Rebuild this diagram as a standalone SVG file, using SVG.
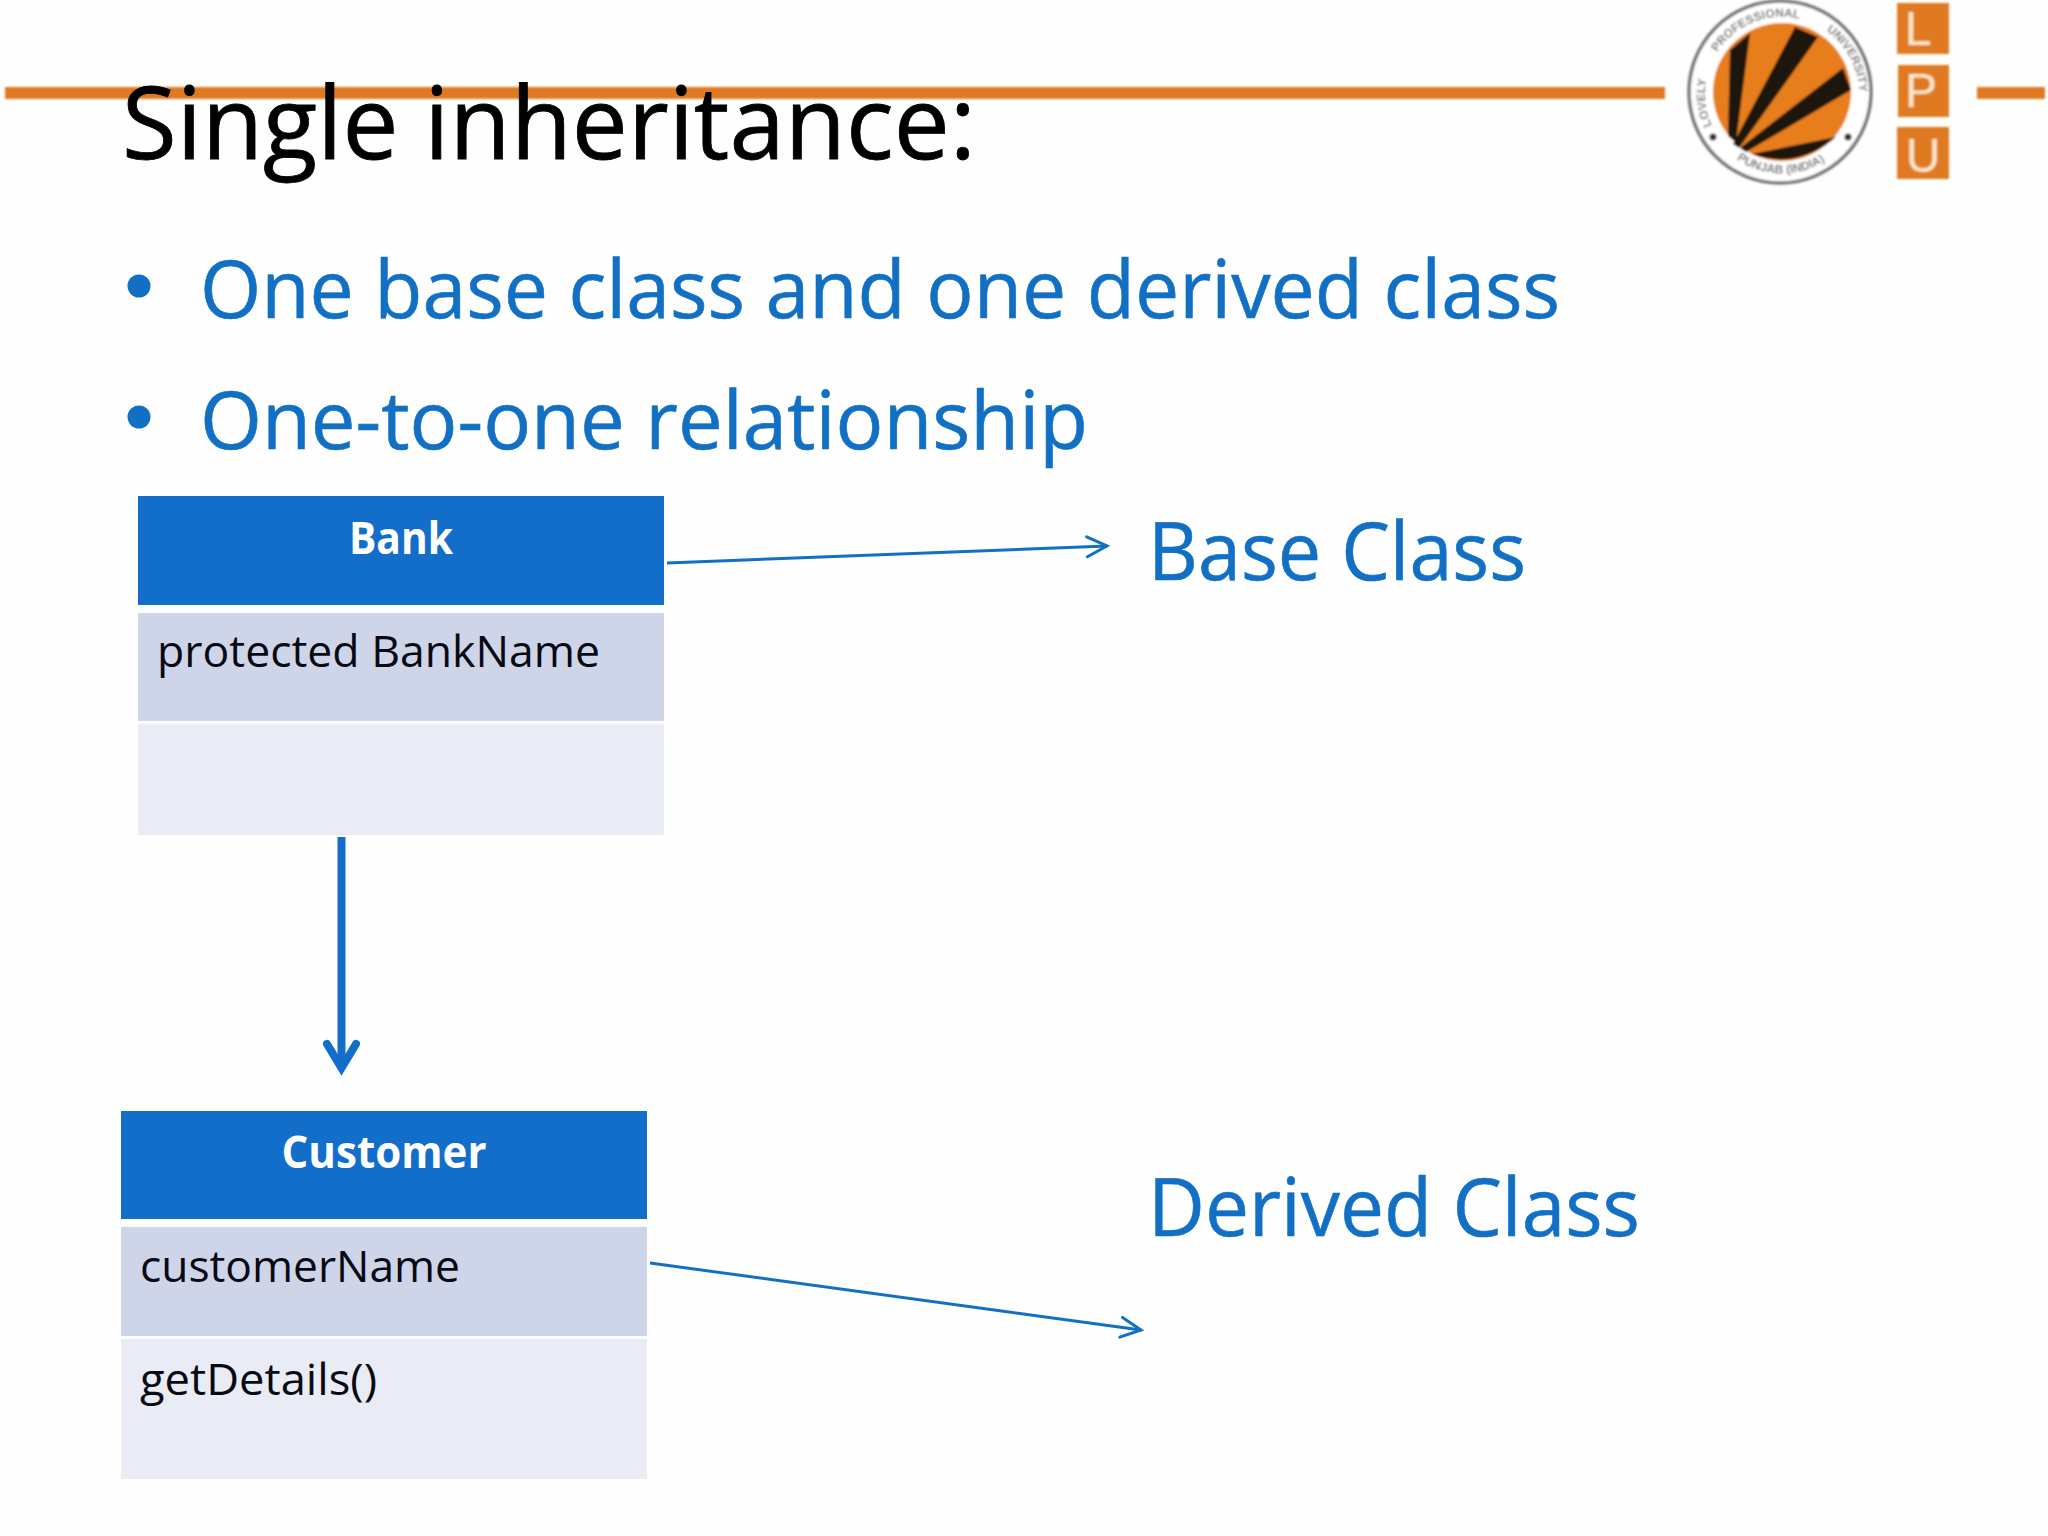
<svg xmlns="http://www.w3.org/2000/svg" width="2048" height="1536" viewBox="0 0 2048 1536">
<style>
text{font-family:"Open Sans","Liberation Sans",sans-serif}
.title{font-size:100px;fill:#000;stroke:#000;stroke-width:.8}
.big{font-size:80px;fill:#1270c4;stroke:#1270c4;stroke-width:.6}
.hd{font-size:44px;font-weight:700;fill:#fff;text-anchor:middle}
.row{font-size:44px;fill:#0a0a14}
.h{fill:#126ec8}.a{fill:#cfd5e9}.b{fill:#e9ebf5}
.thin{fill:none;stroke:#1270c4;stroke-width:3}
.or{fill:#e07a20}
.lt{font-family:"Liberation Sans",sans-serif;font-size:48px;fill:#fbe6c8;text-anchor:middle}
.lg{font-family:"Liberation Sans",sans-serif;font-size:12px;font-weight:700;fill:#777}
</style>
<defs>
<marker id="open" markerUnits="userSpaceOnUse" markerWidth="30" markerHeight="30" refX="22" refY="12" orient="auto"><path d="M2 2L22 12L2 22" fill="none" stroke="#1270c4" stroke-width="3" stroke-linecap="round"/></marker>
<path id="ringTop" d="M1713 128A77 77 0 1 1 1851 128"/>
<path id="ringBot" d="M1720 144A80 80 0 0 0 1844 144"/>
<filter id="soft"><feGaussianBlur stdDeviation="0.8"/></filter>
<filter id="soft2"><feGaussianBlur stdDeviation="1.2"/></filter>
</defs>
<rect width="2048" height="1536" fill="#fefefe"/>
<g id="header-line" filter="url(#soft2)">
<rect x="5" y="87" width="1660" height="12" class="or"/>
<rect x="1977" y="87" width="68" height="12" class="or"/>
</g>
<g id="logo" filter="url(#soft)">
<circle cx="1780" cy="92" r="91" fill="#fff" stroke="#777" stroke-width="3.5"/>
<circle cx="1782" cy="92" r="69" fill="#e87d1a"/>
<path d="M1728 136L1730 50L1750 33L1736 142ZM1733 144L1795 27L1818 37L1739 148ZM1740 148L1843 68L1851 90L1746 152ZM1752 154L1836 137Q1815 155 1790 159Q1770 161 1752 154Z" fill="#1c1410"/>
<text class="lg" word-spacing="26"><textPath href="#ringTop" startOffset="1%">LOVELY PROFESSIONAL UNIVERSITY</textPath></text>
<text class="lg"><textPath href="#ringBot" startOffset="16%">PUNJAB (INDIA)</textPath></text>
<circle cx="1713" cy="137" r="3.5" fill="#333"/><circle cx="1848" cy="137" r="3.5" fill="#333"/>
<rect x="1897" y="3" width="52" height="51" class="or"/>
<rect x="1898" y="65" width="51" height="52" class="or"/>
<rect x="1897" y="127" width="52" height="52" class="or"/>
<text class="lt" x="1918" y="45">L</text>
<text class="lt" x="1921" y="107">P</text>
<text class="lt" x="1923" y="172">U</text>
</g>
<text class="title" x="122" y="159" textLength="854" lengthAdjust="spacingAndGlyphs">Single inheritance:</text>
<g id="bullets">
<circle cx="139" cy="286" r="11.5" fill="#1270c4"/>
<text class="big" x="200" y="318" textLength="1360" lengthAdjust="spacingAndGlyphs">One base class and one derived class</text>
<circle cx="139" cy="417" r="11.5" fill="#1270c4"/>
<text class="big" x="200" y="449" textLength="888" lengthAdjust="spacingAndGlyphs">One-to-one relationship</text>
</g>
<g id="bank">
<rect class="h" x="138" y="496" width="526" height="109"/>
<rect class="a" x="138" y="613" width="526" height="108"/>
<rect class="b" x="138" y="724" width="526" height="111"/>
<text class="hd" x="401" y="554" textLength="104" lengthAdjust="spacingAndGlyphs">Bank</text>
<text class="row" x="157" y="667" textLength="443" lengthAdjust="spacingAndGlyphs">protected BankName</text>
</g>
<g id="customer">
<rect class="h" x="121" y="1111" width="526" height="108"/>
<rect class="a" x="121" y="1227" width="526" height="109"/>
<rect class="b" x="121" y="1339" width="526" height="140"/>
<text class="hd" x="384" y="1168" textLength="205" lengthAdjust="spacingAndGlyphs">Customer</text>
<text class="row" x="140" y="1282" textLength="320" lengthAdjust="spacingAndGlyphs">customerName</text>
<text class="row" x="140" y="1395" textLength="237" lengthAdjust="spacingAndGlyphs">getDetails()</text>
</g>
<g id="labels">
<text class="big" x="1148" y="580" textLength="378" lengthAdjust="spacingAndGlyphs">Base Class</text>
<text class="big" x="1148" y="1236" textLength="492" lengthAdjust="spacingAndGlyphs">Derived Class</text>
</g>
<g id="connectors">
<path class="thin" d="M667 563L1107 546" marker-end="url(#open)"/>
<path class="thin" d="M650 1263L1141 1330" marker-end="url(#open)"/>
<path d="M341.5 837V1066" fill="none" stroke="#126ec8" stroke-width="8"/>
<path d="M327 1044L341.5 1068L356 1044" fill="none" stroke="#126ec8" stroke-width="8" stroke-linecap="round"/>
</g>
</svg>
